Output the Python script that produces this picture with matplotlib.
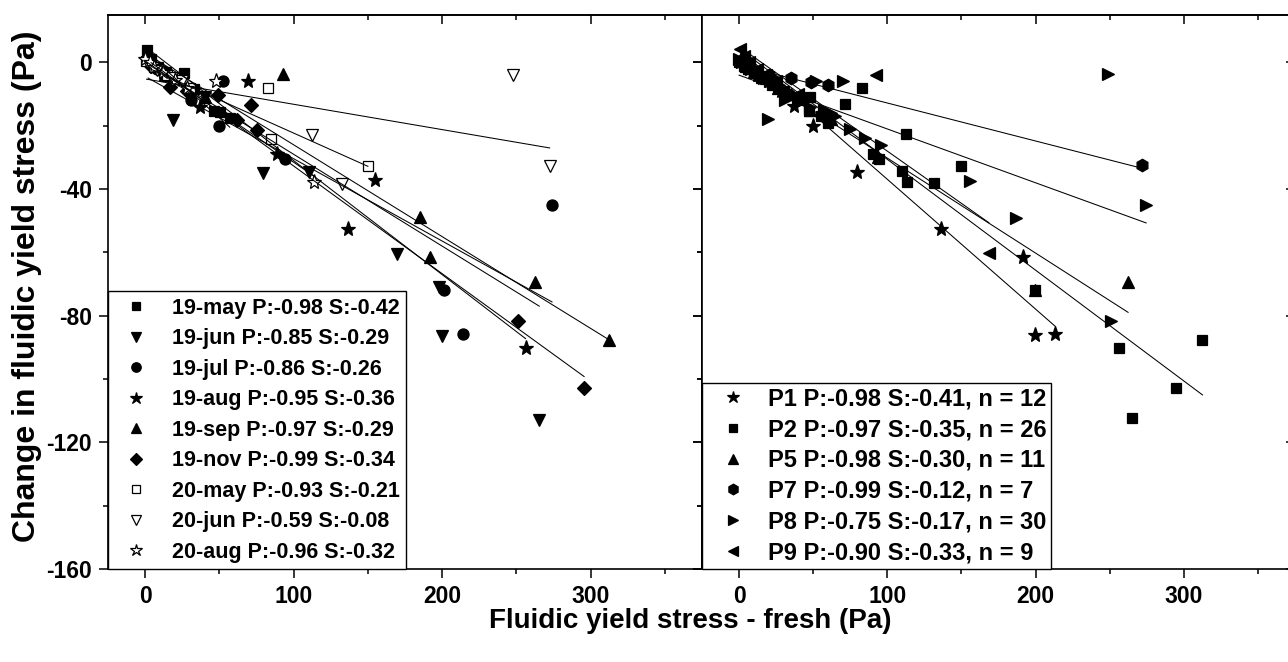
import numpy as np
import matplotlib.pyplot as plt
from matplotlib.ticker import MultipleLocator

plt.rcParams['font.family'] = ['Liberation Sans', 'DejaVu Sans']
plt.rcParams['font.weight'] = 'bold'
plt.rcParams['axes.unicode_minus'] = False

# ---- left panel: grouped by sampling month ----
month_names = ['19-may', '19-jun', '19-jul', '19-aug', '19-sep',
               '19-nov', '20-may', '20-jun', '20-aug']
month_P = [-0.98, -0.85, -0.86, -0.95, -0.97, -0.99, -0.93, -0.59, -0.96]
month_S = [-0.42, -0.29, -0.26, -0.36, -0.29, -0.34, -0.21, -0.08, -0.32]
# intercepts of the fit lines
month_b = [3.5, 0.0, -4.4, 5.0, 3.0, 1.3, -1.3, -5.2, 0.5]

may19_x = [1.4, 4, 9, 14, 26.5, 33, 46.6, 50.5, 57]
may19_y = [4.0, 1.0, -1.5, -3, -3.4, -8.5, -15.2, -15.7, -17.5]
jun19_x = [3, 10, 19, 40, 79.6, 110.6, 169.7, 198, 200, 265.4]
jun19_y = [0, -3, -18.3, -11, -35, -34.6, -60.4, -71, -86.5, -112.9]
jul19_x = [2, 8, 30.6, 50, 52.3, 94.3, 201, 213.8, 274]
jul19_y = [1, -2, -12, -20, -6, -30.4, -72, -85.7, -45]
aug19_x = [3, 12, 37, 69, 89, 136.4, 155, 256.2]
aug19_y = [0, -4, -14.1, -6, -28.8, -52.7, -37, -90.2]
sep19_x = [2, 15, 40, 93, 185.4, 192, 262.6, 312.4]
sep19_y = [2, -4, -11, -3.6, -48.8, -61.3, -69.4, -87.6]
nov19_x = [4, 17, 28, 49, 62, 71.6, 75, 251, 295.6]
nov19_y = [-1, -7.6, -9, -10.4, -18.3, -13.3, -21.3, -81.8, -102.7]
may20_x = [0.5, 6, 15, 30, 82.7, 84.8, 150]
may20_y = [0.5, -1.5, -4, -8, -8, -24.1, -32.8]
jun20_x = [1, 8, 18, 25, 112.4, 132.3, 247.9, 272.4]
jun20_y = [0, -2.5, -5, -6, -23, -38.5, -3.8, -32.8]
aug20_x = [0, 3, 6, 12, 20, 28, 47.9, 113.7]
aug20_y = [1, 0, -1.5, -3, -5.5, -8, -6, -37.8]

# ---- right panel: grouped by site ----
site_names = ['P1', 'P2', 'P5', 'P7', 'P8', 'P9']
site_P = [-0.98, -0.97, -0.98, -0.99, -0.75, -0.90]
site_S = [-0.41, -0.35, -0.30, -0.12, -0.17, -0.33]
site_n = [12, 26, 11, 7, 30, 9]
site_b = [4.1, 4.4, -0.2, -0.8, -4.0, 5.0]

p1_x = [1, 5, 12, 20, 28, 37.2, 50, 79.3, 136.1, 191.7, 199.9, 213.4]
p1_y = [1, -1, -4, -6, -9, -13.9, -20.2, -34.6, -52.5, -61.5, -86.2, -85.7]
p2_x = [0, 3, 6, 10, 15, 22, 30, 40, 47, 48, 55, 60, 71.6, 82.6, 90.3, 94.1,
        110, 112.4, 113.2, 131.8, 149.6, 199.9, 256, 264.9, 295, 312.6]
p2_y = [0, -1, -2, -3, -5, -7, -9, -12, -15.2, -11, -17, -19, -13.1, -8, -28.8,
        -30.4, -34.3, -22.5, -37.8, -38.1, -32.8, -72, -90.2, -112.3, -102.8, -87.8]
p5_x = [1, 5, 10, 18, 26, 35, 48, 62, 94, 199.9, 262.4]
p5_y = [1, -1, -3, -5, -8, -10, -15, -18, -30, -72, -69.4]
p7_x = [2, 8, 20, 35, 48.2, 60, 272]
p7_y = [0, -2, -4, -5, -6.2, -7, -32.3]
p8_x = [0, 2, 5, 8, 11, 14, 17, 19.6, 21, 24, 27, 30.8, 33, 36, 40, 44, 48, 52,
        57, 62, 65, 69.8, 75, 85, 96, 156, 186.6, 249.1, 250.9, 274.6]
p8_y = [1, 0, -1, -2, -3, -4, -5, -18, -6, -5, -7, -12, -9, -10, -11, -12, -14, -6,
        -15, -16, -17, -6, -21, -23.9, -26, -37.3, -49.2, -3.6, -81.8, -45]
p9_x = [0.4, 3, 7, 12, 18, 25, 40, 92.3, 168.5]
p9_y = [4.3, 2, 0, -2, -4, -6, -10, -3.8, -60.1]

month_data = [(may19_x, may19_y), (jun19_x, jun19_y), (jul19_x, jul19_y),
              (aug19_x, aug19_y), (sep19_x, sep19_y), (nov19_x, nov19_y),
              (may20_x, may20_y), (jun20_x, jun20_y), (aug20_x, aug20_y)]
site_data = [(p1_x, p1_y), (p2_x, p2_y), (p5_x, p5_y),
             (p7_x, p7_y), (p8_x, p8_y), (p9_x, p9_y)]

# marker style per series: (marker, size, filled)
month_style = [('s', 7.5, True), ('v', 8.5, True), ('o', 8, True), ('*', 11, True),
               ('^', 8.5, True), ('D', 6.8, True), ('s', 7.5, False),
               ('v', 8.5, False), ('*', 11, False)]
site_style = [('*', 11, True), ('s', 7.5, True), ('^', 8.5, True),
              ('h', 9, True), ('>', 8.5, True), ('<', 8.5, True)]


def style_axes(ax, show_ylabels):
    ax.set_xlim(-25, 375)
    ax.set_ylim(-160, 15)
    ax.xaxis.set_major_locator(MultipleLocator(100))
    ax.xaxis.set_minor_locator(MultipleLocator(50))
    ax.yaxis.set_major_locator(MultipleLocator(40))
    ax.yaxis.set_minor_locator(MultipleLocator(20))
    ax.tick_params(axis='x', which='both', bottom=True, top=False, direction='out')
    ax.tick_params(axis='y', which='both', left=True, right=False, direction='out')
    ax.tick_params(which='major', length=6.5, width=1.1, labelsize=16.5, pad=5)
    ax.tick_params(which='minor', length=3.4, width=1.1)
    if not show_ylabels:
        ax.tick_params(axis='y', labelleft=False)
    # mirrored ticks on top and right, pointing the same way as the bottom/left ones
    top = ax.secondary_xaxis('top')
    top.xaxis.set_major_locator(MultipleLocator(100))
    top.xaxis.set_minor_locator(MultipleLocator(50))
    top.tick_params(which='both', direction='in', labeltop=False, width=1.1)
    top.tick_params(which='major', length=6.5)
    top.tick_params(which='minor', length=3.4)
    right = ax.secondary_yaxis('right')
    right.yaxis.set_major_locator(MultipleLocator(40))
    right.yaxis.set_minor_locator(MultipleLocator(20))
    right.tick_params(which='both', direction='in', labelright=False, width=1.1)
    right.tick_params(which='major', length=6.5)
    right.tick_params(which='minor', length=3.4)
    for sp in ax.spines.values():
        sp.set_linewidth(1.2)
    top.spines['top'].set_linewidth(1.2)
    right.spines['right'].set_linewidth(1.2)


def draw_panel(ax, data, styles, slopes, intercepts, labels):
    for (xs, ys), (mk, ms, filled), s, b, lab in zip(data, styles, slopes,
                                                      intercepts, labels):
        xs = np.asarray(xs)
        ys = np.asarray(ys)
        ax.plot(xs, ys, linestyle='none', marker=mk, markersize=ms,
                markerfacecolor='black' if filled else 'white',
                markeredgecolor='black', markeredgewidth=0.9, label=lab, zorder=3)
        xl = np.array([xs.min(), xs.max()])
        ax.plot(xl, b + s * xl, color='black', linewidth=0.75, zorder=4)


fig = plt.figure(figsize=(12.88, 6.62), dpi=100)
ax1 = fig.add_axes([108 / 1288, 93 / 662, 594 / 1288, 554 / 662])
ax2 = fig.add_axes([702 / 1288, 93 / 662, 593 / 1288, 554 / 662])

month_labels = [f'{n} P:{p:.2f} S:{s:.2f}'
                for n, p, s in zip(month_names, month_P, month_S)]
site_labels = [f'{n} P:{p:.2f} S:{s:.2f}, n = {k}'
               for n, p, s, k in zip(site_names, site_P, site_S, site_n)]

draw_panel(ax1, month_data, month_style, month_S, month_b, month_labels)
draw_panel(ax2, site_data, site_style, site_S, site_b, site_labels)
style_axes(ax1, True)
style_axes(ax2, False)

leg1 = ax1.legend(loc='lower left', bbox_to_anchor=(0, 0), borderaxespad=0,
                  fontsize=15.5, frameon=True, fancybox=False, edgecolor='black',
                  framealpha=1, borderpad=0.3, handlelength=2.0,
                  handletextpad=0.65, labelspacing=0.44, markerscale=0.85)
leg1.get_frame().set_linewidth(1.0)
leg2 = ax2.legend(loc='lower left', bbox_to_anchor=(0, 0), borderaxespad=0,
                  fontsize=17, frameon=True, fancybox=False, edgecolor='black',
                  framealpha=1, borderpad=0.2, handlelength=2.2,
                  handletextpad=0.4, labelspacing=0.33, markerscale=0.85)
leg2.get_frame().set_linewidth(1.0)

fig.text(27 / 1288, 1 - 286 / 662, 'Change in fluidic yield stress (Pa)',
         rotation=90, ha='center', va='center', fontsize=23, fontweight='bold')
fig.text(690 / 1288, 1 - 621 / 662, 'Fluidic yield stress - fresh (Pa)',
         ha='center', va='center', fontsize=20, fontweight='bold')

fig.savefig('out.png', dpi=100)
